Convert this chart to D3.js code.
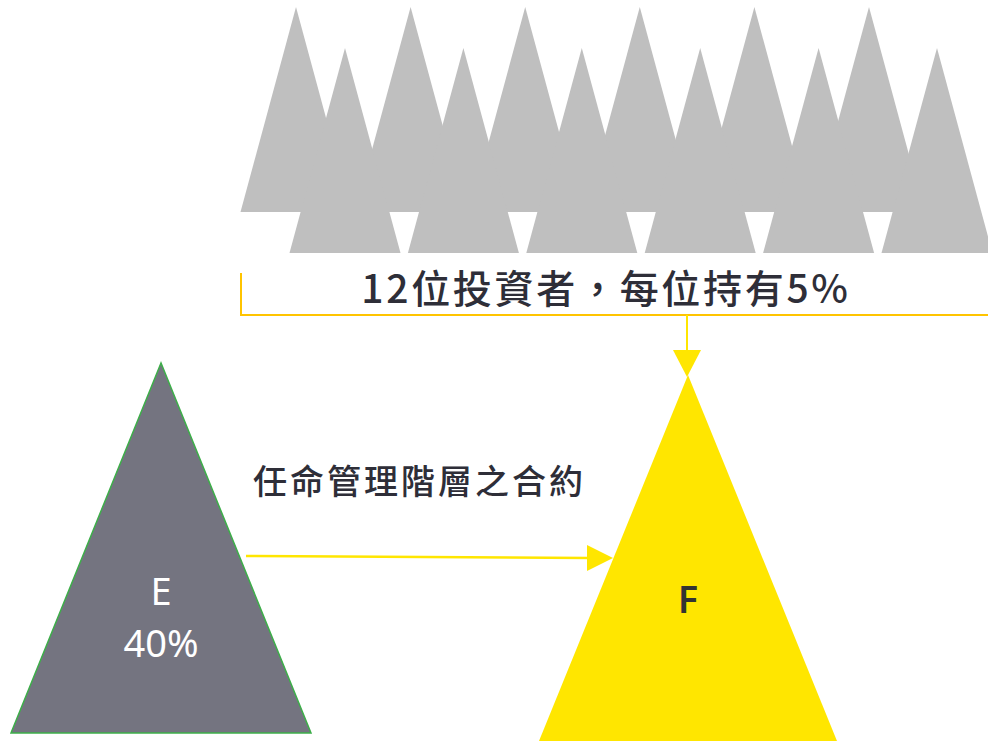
<!DOCTYPE html>
<html>
<head>
<meta charset="utf-8">
<script src="https://cdnjs.cloudflare.com/ajax/libs/d3/7.8.5/d3.min.js"></script>
<style>
body { margin: 0; background: #fff; }
svg { display: block; }
</style>
</head>
<body>
<div id="chart"></div>
<script>
// data
var investors = ["I1", "I2", "I3", "I4", "I5", "I6", "I7", "I8", "I9", "I10", "I11", "I12"];
var investorShares = [5, 5, 5, 5, 5, 5, 5, 5, 5, 5, 5, 5];
var parties = ["E", "F"];
var partyShares = [40, null];
var investorLabel = "12位投資者，每位持有5%";
var contractLabel = "任命管理階層之合約";

var w = 988, h = 741;
var font = "'Noto Sans CJK TC', 'Noto Sans', sans-serif";

var svg = d3.select("#chart").append("svg")
    .attr("width", w).attr("height", h);

function tri(cx, baseY, halfW, th) {
  return "M" + cx + "," + (baseY - th) + "L" + (cx - halfW) + "," + baseY + "L" + (cx + halfW) + "," + baseY + "Z";
}

// investors: two staggered rows, back row (even index) drawn first
var rows = investors.map(function(d, i) {
  return {id: d, share: investorShares[i], row: i % 2, slot: Math.floor(i / 2)};
});
var xBack = d3.scaleLinear().domain([0, 5]).range([296, 869]);
var xFront = d3.scaleLinear().domain([0, 5]).range([345, 937]);
var baseY = d3.scaleOrdinal().domain([0, 1]).range([212, 253]);

svg.append("g").selectAll("path.inv")
    .data(rows.filter(function(d) { return d.row == 0; }).concat(rows.filter(function(d) { return d.row == 1; })))
    .enter().append("path")
    .attr("class", "inv")
    .attr("d", function(d) {
      var cx = d.row == 0 ? xBack(d.slot) : xFront(d.slot);
      return tri(cx, baseY(d.row), 55.5, 205);
    })
    .attr("fill", "#bfbfbf");

// bracket under investors
svg.append("path")
    .attr("d", "M241,273V315H" + w)
    .attr("fill", "none").attr("stroke", "#ffc400").attr("stroke-width", 2);

svg.append("text")
    .attr("x", 606).attr("y", 303)
    .attr("text-anchor", "middle")
    .attr("font-family", font).attr("font-size", 39).attr("font-weight", 500)
    .attr("letter-spacing", 2.7)
    .attr("fill", "#2e2e38")
    .text(investorLabel);

// parties E and F
var pos = d3.scaleOrdinal().domain(parties).range([161, 688]);
var apexY = d3.scaleOrdinal().domain(parties).range([363, 375]);
var bottomY = d3.scaleOrdinal().domain(parties).range([733, 741]);
var halfW = d3.scaleOrdinal().domain(parties).range([150, 149]);
var fills = d3.scaleOrdinal().domain(parties).range(["#747480", "#ffe600"]);

svg.append("g").selectAll("path.party")
    .data(parties).enter().append("path")
    .attr("class", "party")
    .attr("d", function(d) { return tri(pos(d), bottomY(d), halfW(d), bottomY(d) - apexY(d)); })
    .attr("fill", function(d) { return fills(d); })
    .attr("stroke", function(d) { return d == "E" ? "#3dae49" : "none"; })
    .attr("stroke-width", 1.5);

// arrow from bracket down to F
var yellow = "#ffe600";
svg.append("line")
    .attr("x1", 687).attr("y1", 315).attr("x2", 687).attr("y2", 352)
    .attr("stroke", yellow).attr("stroke-width", 2);
svg.append("path")
    .attr("d", "M673,350L701,350L687,377Z")
    .attr("fill", yellow);

// contract arrow E -> F
svg.append("line")
    .attr("x1", 246).attr("y1", 556).attr("x2", 590).attr("y2", 558)
    .attr("stroke", yellow).attr("stroke-width", 2.5);
svg.append("path")
    .attr("d", "M587,545L587,571L613,558Z")
    .attr("fill", yellow);

svg.append("text")
    .attr("x", 253).attr("y", 494)
    .attr("font-family", font).attr("font-size", 34).attr("font-weight", 500)
    .attr("letter-spacing", 3)
    .attr("fill", "#2e2e38")
    .text(contractLabel);

// labels inside the triangles
parties.forEach(function(p, i) {
  var lines = partyShares[i] != null ? [p, partyShares[i] + "%"] : [p];
  var ys = partyShares[i] != null ? [605, 657] : [613];
  lines.forEach(function(t, j) {
    svg.append("text")
        .attr("x", pos(p)).attr("y", ys[j])
        .attr("text-anchor", "middle")
        .attr("font-family", "'Noto Sans', sans-serif")
        .attr("font-size", p == "E" ? 38 : 38)
        .attr("font-weight", p == "E" ? 400 : 600)
        .attr("fill", p == "E" ? "#fff" : "#333333")
        .text(t);
  });
});
</script>
</body>
</html>
